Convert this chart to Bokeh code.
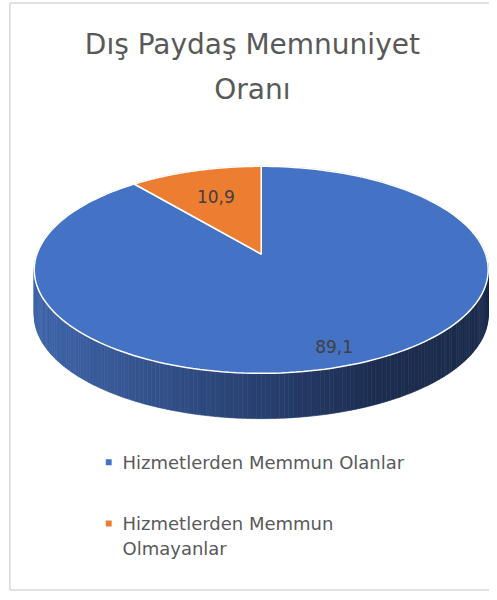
import numpy as np
from bokeh.plotting import figure
from bokeh.models import Range1d
from bokeh.embed import file_html
from bokeh.resources import INLINE
from bokeh.core.properties import value

# ---------------- data ----------------
title_lines = ["Dış Paydaş Memnuniyet", "Oranı"]
categories = ["Hizmetlerden Memmun Olanlar", "Hizmetlerden Memmun Olmayanlar"]
legend_labels = ["Hizmetlerden Memmun Olanlar", "Hizmetlerden Memmun\nOlmayanlar"]
values = [89.1, 10.9]
value_labels = ["89,1", "10,9"]
colors = ["#4472C4", "#ED7D31"]

# ---------------- layout / styling ----------------
W, H = 489, 592
FONT = "DejaVu Sans"
CX, CY0 = 265.0, 257.0        # pie apex on screen
D = 228.0                      # horizontal radius factor
PB, PC = -63.4, 0.152          # perspective terms
DEPTH = 46.0                   # side thickness
label_radius = [0.85, 0.66]


def proj(theta, r=1.0):
    """theta measured from 12 o'clock, clockwise; returns screen coords."""
    u = r * np.sin(theta)
    v = r * np.cos(theta)
    den = 1.0 + PC * v
    return CX + D * u / den, (CY0 + PB * v) / den


p = figure(width=W, height=H, x_range=Range1d(0, 497), y_range=Range1d(600, 0),
           output_backend="svg", toolbar_location=None, min_border=0,
           x_axis_location=None, y_axis_location=None)
p.grid.visible = False
p.outline_line_color = None
p.background_fill_color = "white"
p.border_fill_color = "white"

# chart border (left, top, bottom)
p.multi_line(xs=[[9.5, 9.5], [9.5, 497], [9.5, 497]],
             ys=[[2.5, 597.5], [2.5, 2.5], [597.5, 597.5]],
             line_color="#d9d9d9", line_width=1.5)

# ---------------- side of the pie (gradient strips) ----------------
stops_x = [33, 265, 380, 497]
stops_c = [(62, 101, 170), (40, 64, 112), (28, 45, 80), (26, 42, 75)]


def side_color(x):
    rgb = [np.interp(x, stops_x, [c[i] for c in stops_c]) for i in range(3)]
    return "#%02x%02x%02x" % tuple(int(round(c)) for c in rgb)


N = 360
th = np.linspace(0, 2 * np.pi, N + 1)
sx, sy = proj(th)
xs_side, ys_side, cs_side = [], [], []
order = np.argsort(-np.cos(th[:-1]))  # back first, front last
for i in order:
    x0, x1 = sx[i], sx[i + 1]
    y0, y1 = sy[i], sy[i + 1]
    xs_side.append([x0, x1, x1, x0])
    ys_side.append([y0, y1, y1 + DEPTH, y0 + DEPTH])
    cs_side.append(side_color((x0 + x1) / 2))
p.patches(xs=xs_side, ys=ys_side, fill_color=cs_side, line_color=cs_side, line_width=0.6)

# ---------------- top face ----------------
total = float(sum(values))
cum = np.cumsum([0.0] + list(values)) / total * 2 * np.pi
xs_top, ys_top = [], []
for k in range(len(values)):
    t = np.linspace(cum[k], cum[k + 1], 200)
    px, py = proj(t)
    xs_top.append([CX] + list(px))
    ys_top.append([CY0] + list(py))
p.patches(xs=xs_top, ys=ys_top, fill_color=colors, line_color="white", line_width=1.5)

# data labels
lx, ly = [], []
for k in range(len(values)):
    mid = (cum[k] + cum[k + 1]) / 2
    x, y = proj(mid, label_radius[k])
    lx.append(x)
    ly.append(y)
p.text(x=lx, y=ly, text=value_labels, text_font=value(FONT), text_font_size="17px",
       text_color="#404040", text_align="center", text_baseline="middle")

# ---------------- title ----------------
p.text(x=[256, 256], y=[45, 90], text=title_lines, text_font=value(FONT),
       text_font_size="28px", text_color="#595959", text_align="center",
       text_baseline="middle")

# ---------------- legend ----------------
leg_y = [468, 530]
LINE_STEP = 25
p.rect(x=[110, 110], y=leg_y, width=6, height=6, fill_color=colors, line_color=None)
tx, ty, tt = [], [], []
for y0, lab in zip(leg_y, legend_labels):
    for j, line in enumerate(lab.split("\n")):
        tx.append(124)
        ty.append(y0 + j * LINE_STEP)
        tt.append(line)
p.text(x=tx, y=ty, text=tt, text_font=value(FONT),
       text_font_size="18px", text_color="#595959", text_align="left",
       text_baseline="middle")

open("out.html", "w").write(file_html(p, INLINE))
